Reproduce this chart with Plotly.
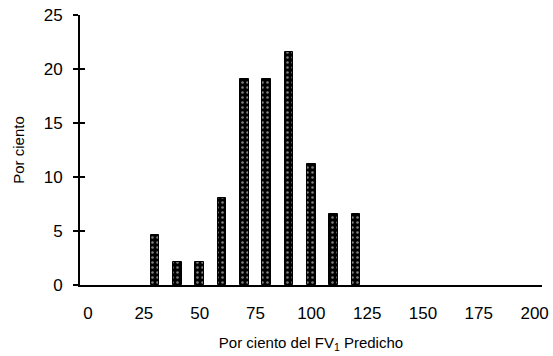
import plotly.graph_objects as go

categories = [30, 40, 50, 60, 70, 80, 90, 100, 110, 120]
percent = [4.6, 2.1, 2.1, 8.1, 19.1, 19.1, 21.6, 11.2, 6.6, 6.6]
x_ticks = [0, 25, 50, 75, 100, 125, 150, 175, 200]
y_ticks = [0, 5, 10, 15, 20, 25]

FONT = "Liberation Sans, Arial, sans-serif"

fig = go.Figure()
fig.add_trace(go.Bar(
    x=categories, y=percent, width=4,
    marker=dict(color="black", line=dict(color="black", width=1),
                pattern=dict(shape=".", fgcolor="white", bgcolor="black",
                             size=5, solidity=0.2)),
    showlegend=False, hoverinfo="skip"))
# invisible trace to carry the overlay axis (inside ticks)
fig.add_trace(go.Scatter(x=[categories[0]], y=[0], yaxis="y2", mode="markers",
                         marker=dict(opacity=0), showlegend=False, hoverinfo="skip"))

fig.update_layout(
    width=553, height=356,
    margin=dict(l=80, r=11, t=15, b=71),
    paper_bgcolor="white", plot_bgcolor="white",
    font=dict(family=FONT, color="black"),
    bargap=0,
    xaxis=dict(range=[-3.6, 203.3], tickvals=x_ticks, ticktext=[str(v) for v in x_ticks],
               showgrid=False, zeroline=False, showline=True, linecolor="black", linewidth=2,
               ticks="", ticklabelstandoff=12, tickfont=dict(size=17, family=FONT),
               automargin=False,
               title=dict(text="Por ciento del FV<sub>1</sub> Predicho",
                          font=dict(size=15, family=FONT), standoff=15)),
    yaxis=dict(range=[0, 25], tickvals=y_ticks, showgrid=False, zeroline=False,
               showline=True, linecolor="black", linewidth=2,
               ticks="outside", ticklen=5, tickwidth=2, tickcolor="black",
               ticklabelstandoff=7, tickfont=dict(size=17, family=FONT),
               automargin=False,
               title=dict(text="Por ciento", font=dict(size=15, family=FONT), standoff=15)),
    yaxis2=dict(range=[0, 25], tickvals=y_ticks, overlaying="y", side="left",
                showgrid=False, zeroline=False, showline=False, showticklabels=False,
                automargin=False,
                ticks="inside", ticklen=5, tickwidth=2, tickcolor="black"),
)

fig.write_html("out.html")
